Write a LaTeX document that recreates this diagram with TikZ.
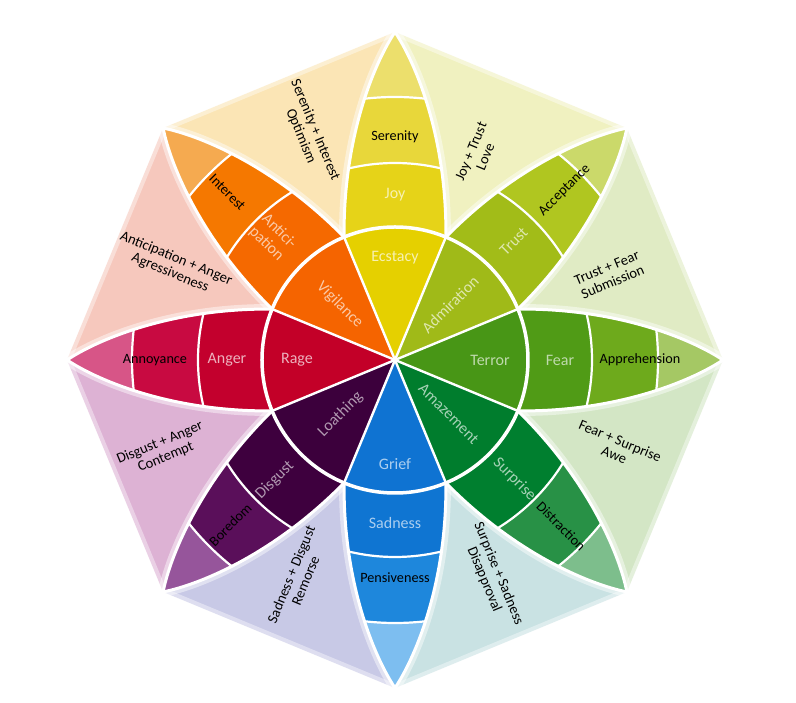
\documentclass[tikz,border=0pt]{standalone}
\usepackage{fontspec}
\setmainfont{Carlito}
% petal colours: A intense, B basic, C mild, D tip
\definecolor{joyA}{RGB}{229,208,0}
\definecolor{joyB}{RGB}{230,211,24}
\definecolor{joyC}{RGB}{232,215,58}
\definecolor{joyD}{RGB}{236,223,108}
\definecolor{truA}{RGB}{160,186,24}
\definecolor{truB}{RGB}{162,188,24}
\definecolor{truC}{RGB}{176,198,32}
\definecolor{truD}{RGB}{203,217,106}
\definecolor{feaA}{RGB}{72,150,22}
\definecolor{feaB}{RGB}{80,155,22}
\definecolor{feaC}{RGB}{110,170,28}
\definecolor{feaD}{RGB}{165,200,100}
\definecolor{surA}{RGB}{0,125,45}
\definecolor{surB}{RGB}{0,127,47}
\definecolor{surC}{RGB}{40,145,70}
\definecolor{surD}{RGB}{125,190,140}
\definecolor{sadA}{RGB}{15,115,210}
\definecolor{sadB}{RGB}{15,117,210}
\definecolor{sadC}{RGB}{30,135,220}
\definecolor{sadD}{RGB}{125,190,240}
\definecolor{disA}{RGB}{60,0,60}
\definecolor{disB}{RGB}{62,0,62}
\definecolor{disC}{RGB}{90,15,90}
\definecolor{disD}{RGB}{150,85,155}
\definecolor{angA}{RGB}{195,0,40}
\definecolor{angB}{RGB}{195,0,45}
\definecolor{angC}{RGB}{200,10,65}
\definecolor{angD}{RGB}{215,85,135}
\definecolor{antA}{RGB}{245,100,0}
\definecolor{antB}{RGB}{245,105,0}
\definecolor{antC}{RGB}{245,120,0}
\definecolor{antD}{RGB}{245,170,80}
% combination colours
\definecolor{cOpt}{RGB}{251,229,181}
\definecolor{cLove}{RGB}{240,241,192}
\definecolor{cSub}{RGB}{224,235,196}
\definecolor{cAwe}{RGB}{211,230,197}
\definecolor{cDis}{RGB}{201,226,227}
\definecolor{cRem}{RGB}{200,201,230}
\definecolor{cCon}{RGB}{221,178,212}
\definecolor{cAgg}{RGB}{246,200,189}
\tikzset{
  intense/.style={inner sep=0pt, font=\fontsize{16}{18}\selectfont},
  basic/.style={inner sep=0pt, font=\fontsize{16}{18}\selectfont},
  mild/.style={inner sep=0pt, font=\fontsize{14.2}{16}\selectfont, text=black},
  combo/.style={inner sep=0pt, align=center, font=\fontsize{14.5}{15.5}\selectfont, text=black},
  petaledge/.style={draw=white, line width=3pt, line join=round},
  petalglow/.style={draw=white, opacity=0.45, line width=10pt, line join=round},
  bandline/.style={draw=white, line width=2.2pt},
}
\begin{document}
\begin{tikzpicture}[x=1pt,y=1pt]
\useasboundingbox (-395,-343) rectangle (401,360);
\fill[white] (-395,-343) rectangle (401,360);
% combination regions
\foreach \a/\c in {90/cOpt, 45/cLove, 0/cSub, -45/cAwe, -90/cDis, -135/cRem, 180/cCon, 135/cAgg}{
  \fill[\c] (0,0) -- (\a:328) -- (\a+45:328) -- cycle;
  \draw[white, opacity=0.4, line width=8pt] (\a:328) -- (\a+45:328);
}
% glow along petal edges
\foreach \a in {90,45,0,-45,-90,-135,180,135}{
  \begin{scope}[rotate=\a]
    \draw[petalglow] (22.5:133) .. controls (220,52) and (295,22) .. (328,0) .. controls (295,-22) and (220,-52) .. (-22.5:133);
  \end{scope}
}
% petals
\foreach \a/\cA/\cB/\cC/\cD in {90/joyA/joyB/joyC/joyD, 45/truA/truB/truC/truD, 0/feaA/feaB/feaC/feaD, -45/surA/surB/surC/surD, -90/sadA/sadB/sadC/sadD, -135/disA/disB/disC/disD, 180/angA/angB/angC/angD, 135/antA/antB/antC/antD}{
  \begin{scope}[rotate=\a]
    \begin{scope}
      \clip (0,0) -- (22.5:133) .. controls (220,52) and (295,22) .. (328,0) .. controls (295,-22) and (220,-52) .. (-22.5:133) -- cycle;
      \fill[\cD] (0,0) circle[radius=340];
      \fill[\cC] (0,0) circle[radius=263];
      \fill[\cB] (0,0) circle[radius=197];
      \fill[\cA] (0,0) circle[radius=133];
      \draw[bandline] (0,0) circle[radius=263] (0,0) circle[radius=197];
    \end{scope}
    \draw[petaledge] (22.5:133) .. controls (220,52) and (295,22) .. (328,0) .. controls (295,-22) and (220,-52) .. (-22.5:133);
  \end{scope}
}
% inner circle lines
\foreach \a in {22.5,67.5,...,337.5}{
  \draw[white, line width=2.4pt] (0,0) -- (\a:133);
}
\draw[white, line width=3.5pt] (0,0) circle[radius=133];

% intense labels
\node[intense, text=white!70!joyA] (ecstacy) at (90:102) {Ecstacy};
\node[intense, text=white!65!truA, rotate=45] (admiration) at (45:78) {Admiration};
\node[intense, text=white!65!feaA] (terror) at (0:95) {Terror};
\node[intense, text=white!65!surA, rotate=-45] (amazement) at (-45:76) {Amazement};
\node[intense, text=white!65!sadA] (grief) at (-90:104) {Grief};
\node[intense, text=white!60!disA, rotate=45] (loathing) at (-135:77) {Loathing};
\node[intense, text=white!70!angA] (rage) at (180:98) {Rage};
\node[intense, text=white!65!antA, rotate=-45] (vigilance) at (135:78) {Vigilance};

% basic labels
\node[basic, text=white!70!joyA] (joy) at (90:165) {Joy};
\node[basic, text=white!65!truA, rotate=45] (trust) at (45:168) {Trust};
\node[basic, text=white!65!feaA] (fear) at (0:165) {Fear};
\node[basic, text=white!65!surA, rotate=-45] (surprise) at (-45:169) {Surprise};
\node[basic, text=white!65!sadA] (sadness) at (-90:163) {Sadness};
\node[basic, text=white!60!disA, rotate=45] (disgust) at (-135:170) {Disgust};
\node[basic, text=white!70!angA] (anger) at (180:168) {Anger};
\node[basic, text=white!65!antA, rotate=-45, align=left] (anticipation) at (135:173) {Antici-\\pation};

% mild labels
\node[mild] (serenity) at (90:223) {Serenity};
\node[mild, rotate=45] (acceptance) at (45:240) {Acceptance};
\node[mild] (apprehension) at (0:245) {Apprehension};
\node[mild, rotate=-45] (distraction) at (-45:235) {Distraction};
\node[mild] (pensiveness) at (-90:218) {Pensiveness};
\node[mild, rotate=45] (boredom) at (-135:233) {Boredom};
\node[mild] (annoyance) at (180:240) {Annoyance};
\node[mild, rotate=-45] (interest) at (135:237) {Interest};

% combination labels
\node[combo, rotate=-67.5] (optimism) at (111:243) {Serenity + Interest\\Optimism};
\node[combo, rotate=67.5] (love) at (68:222) {Joy + Trust\\Love};
\node[combo, rotate=22.5] (submission) at (21.6:231) {Trust + Fear\\Submission};
\node[combo, rotate=-22.5] (awe) at (-21.6:239) {Fear + Surprise\\Awe};
\node[combo, rotate=-67.5] (disapproval) at (-66:237) {Surprise + Sadness\\Disapproval};
\node[combo, rotate=67.5] (remorse) at (-114:238) {Sadness + Disgust\\Remorse};
\node[combo, rotate=22.5] (contempt) at (-158.8:249) {Disgust + Anger\\Contempt};
\node[combo, rotate=-22.5] (aggressiveness) at (157:241) {Anticipation + Anger\\Agressiveness};
\end{tikzpicture}
\end{document}
